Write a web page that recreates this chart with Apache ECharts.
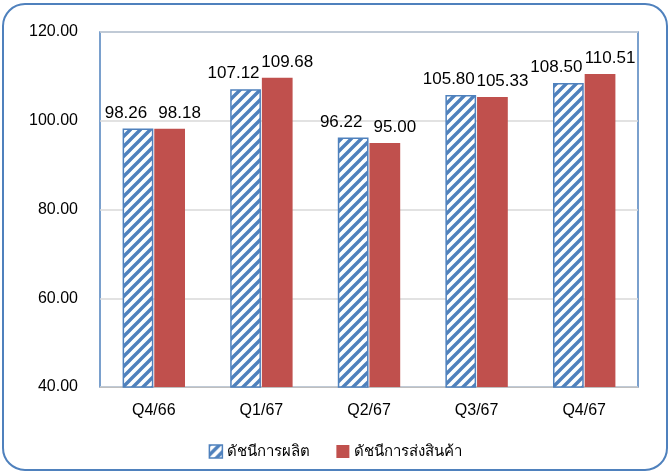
<!DOCTYPE html>
<html>
<head>
<meta charset="utf-8">
<script src="https://cdn.jsdelivr.net/npm/echarts@6/dist/echarts.min.js"></script>
<style>
  html, body { margin: 0; padding: 0; background: #fff; }
  #chart { width: 671px; height: 473px; }
</style>
</head>
<body>
<div id="chart"></div>
<script>
// data
const categories = ['Q4/66', 'Q1/67', 'Q2/67', 'Q3/67', 'Q4/67'];
const productionIndex = [98.26, 107.12, 96.22, 105.80, 108.50];
const shipmentIndex = [98.18, 109.68, 95.00, 105.33, 110.51];
const seriesNames = ['ดัชนีการผลิต', 'ดัชนีการส่งสินค้า'];

const blue = '#4F81BD';
const red = '#C0504D';
const fontFamily = '"Liberation Sans", "Noto Sans", sans-serif';

// diagonal hatch tile for the production bars
function makeHatch() {
  const size = 10;
  const c = document.createElement('canvas');
  c.width = size;
  c.height = size;
  const ctx = c.getContext('2d');
  ctx.fillStyle = '#fff';
  ctx.fillRect(0, 0, size, size);
  ctx.strokeStyle = blue;
  ctx.lineWidth = 3.4;
  ctx.beginPath();
  ctx.moveTo(-size, size * 2); ctx.lineTo(size * 2, -size);
  ctx.moveTo(-size, size); ctx.lineTo(size, -size);
  ctx.moveTo(0, size * 2); ctx.lineTo(size * 2, 0);
  ctx.stroke();
  return c;
}

const chart = echarts.init(document.getElementById('chart'));
const hatch = { image: makeHatch(), repeat: 'repeat' };

function labelStyle(dx) {
  return {
    show: true,
    position: 'top',
    distance: 7,
    offset: [dx, 0],
    color: '#000',
    fontSize: 17,
    fontFamily: fontFamily,
    formatter: p => p.value.toFixed(2)
  };
}

const option = {
  animation: false,
  graphic: [
    {
      type: 'rect',
      shape: { x: 3, y: 4, width: 664, height: 466, r: 22 },
      style: { fill: 'none', stroke: blue, lineWidth: 2 },
      z: -1
    }
  ],
  grid: {
    left: 100,
    right: 33,
    top: 32,
    bottom: 86,
    show: true,
    borderColor: blue,
    borderWidth: 1.5
  },
  legend: {
    bottom: 9,
    left: 'center',
    itemWidth: 13,
    itemHeight: 13,
    itemGap: 26,
    textStyle: { color: '#000', fontSize: 15, fontFamily: fontFamily },
    data: [
      { name: seriesNames[0], icon: 'rect', itemStyle: { color: hatch, borderColor: blue, borderWidth: 1.5 } },
      { name: seriesNames[1], icon: 'rect' }
    ]
  },
  xAxis: {
    type: 'category',
    data: categories,
    axisLine: { show: true, lineStyle: { color: '#BFBFBF', width: 1 } },
    axisTick: { show: false },
    axisLabel: { color: '#000', fontSize: 16, fontFamily: fontFamily, margin: 16 }
  },
  yAxis: {
    type: 'value',
    min: 40,
    max: 120,
    interval: 20,
    axisLine: { show: false },
    axisTick: { show: false },
    splitLine: { lineStyle: { color: '#D9D9D9', width: 1.5 } },
    axisLabel: {
      color: '#000',
      fontSize: 16,
      fontFamily: fontFamily,
      margin: 22,
      formatter: v => v.toFixed(2)
    }
  },
  series: [
    {
      name: seriesNames[0],
      type: 'bar',
      data: productionIndex,
      barGap: '3%',
      barCategoryGap: '42%',
      itemStyle: { color: hatch, borderColor: blue, borderWidth: 1.5 },
      label: labelStyle(-12)
    },
    {
      name: seriesNames[1],
      type: 'bar',
      data: shipmentIndex,
      itemStyle: { color: red },
      label: labelStyle(10)
    }
  ]
};

chart.setOption(option);
</script>
</body>
</html>
